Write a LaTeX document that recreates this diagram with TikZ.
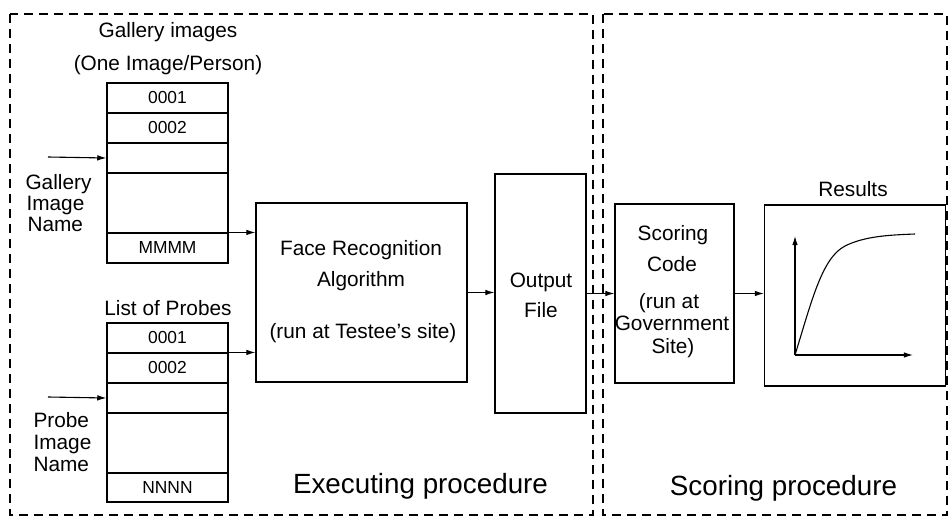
\documentclass[tikz,border=0pt]{standalone}
\usepackage{fontspec}
\setmainfont{Liberation Sans}
\usetikzlibrary{arrows.meta}
\begin{document}
\begin{tikzpicture}[x=0.5pt,y=-0.5pt,
  line width=0.55pt,
  lbl/.style={font=\fontsize{10.4}{10.4}\selectfont, inner sep=0pt, anchor=base},
  lbll/.style={lbl, anchor=base west},
  big/.style={font=\fontsize{13.9}{13.9}\selectfont, inner sep=0pt, anchor=base},
  cell/.style={draw, inner sep=0pt, minimum width=60.5pt, minimum height=15pt,
               font=\fontsize{8.7}{8.7}\selectfont},
  box/.style={draw, inner sep=0pt},
  region/.style={draw, dash pattern=on 4.5pt off 3pt, line width=0.6pt},
  arr/.style={-{Latex[length=4.6pt,width=2.8pt]}}
]
\useasboundingbox (0,0) rectangle (949,519);

% two dashed regions
\draw[region] (10,14) rectangle (593,515);
\draw[region] (603,14) rectangle (947,515);

% gallery list
\node[lbl] (gtitle) at (168,38) {Gallery images};
\node[lbl] (gsub) at (168,71) {(One Image/Person)};
\node[cell] (g1) at (167.5,98) {0001};
\node[cell] (g2) at (167.5,128) {0002};
\node[cell] (g3) at (167.5,158) {};
\node[cell, minimum height=30pt] (g4) at (167.5,203) {};
\node[cell] (g5) at (167.5,248) {MMMM};
\node[lbll] (gn1) at (25,190) {Gallery};
\node[lbll] (gn2) at (26,211) {Image};
\node[lbll] (gn3) at (27,232) {Name};
\coordinate (gin) at (48,157);

% probe list
\node[lbl] (ptitle) at (168,315) {List of Probes};
\node[cell] (p1) at (167.5,338) {0001};
\node[cell] (p2) at (167.5,368) {0002};
\node[cell] (p3) at (167.5,398) {};
\node[cell, minimum height=30pt] (p4) at (167.5,443) {};
\node[cell, minimum height=14.5pt] (p5) at (167.5,487.5) {NNNN};
\node[lbll] (pn1) at (33,427) {Probe};
\node[lbll] (pn2) at (33,449) {Image};
\node[lbll] (pn3) at (33,471) {Name};
\coordinate (pin) at (48,397);

% algorithm and output
\node[box, minimum width=105.5pt, minimum height=89.5pt] (face) at (361.5,292.5) {};
\node[lbl] (f1) at (361,256) {Face Recognition};
\node[lbl] (f2) at (361,286) {Algorithm};
\node[lbl] (f3) at (363,338) {(run at Testee's site)};

\node[box, minimum width=45.5pt, minimum height=119.5pt] (out) at (540.5,293.5) {};
\node[lbl] (o1) at (541,287) {Output};
\node[lbl] (o2) at (541,317) {File};

\node[big] (exec) at (420.5,493) {Executing procedure};

% scoring side
\node[box, minimum width=59.5pt, minimum height=89.5pt] (score) at (674.5,293.5) {};
\node[lbl] (s1) at (673,241) {Scoring};
\node[lbl] (s2) at (672,271) {Code};
\node[lbl] (s3) at (669,308) {(run at};
\node[lbl] (s4) at (672,330) {Government};
\node[lbl] (s5) at (673,353) {Site)};

\node[lbl] (restitle) at (853,197) {Results};
\node[box, minimum width=90.5pt, minimum height=90.5pt] (res) at (855,295.5) {};

\node[big] (scorp) at (783.5,495) {Scoring procedure};

% plot inside the results box
\coordinate (org) at (795,355);
\coordinate (ytop) at (795,236);
\coordinate (xend) at (913,355);
\draw[arr] (org) -- (ytop);
\draw[arr] (org) -- (xend);
\draw (org) .. controls (812,300) and (822,258) .. (845,246)
            .. controls (865,236) and (890,235) .. (915,234);

% connectors
\draw[arr] (gin) -- (g3.west);
\draw[arr] (pin) -- (p3.west);
\draw[arr] (g5.north east) -- (g5.north east -| face.west);
\draw[arr] (p2.north east) -- (p2.north east -| face.west);
\draw[arr] (face.east) -- (face.east -| out.west);
\draw[arr] (out.east) -- (out.east -| score.west);
\draw[arr] (score.east) -- (score.east -| res.west);
\end{tikzpicture}
\end{document}
